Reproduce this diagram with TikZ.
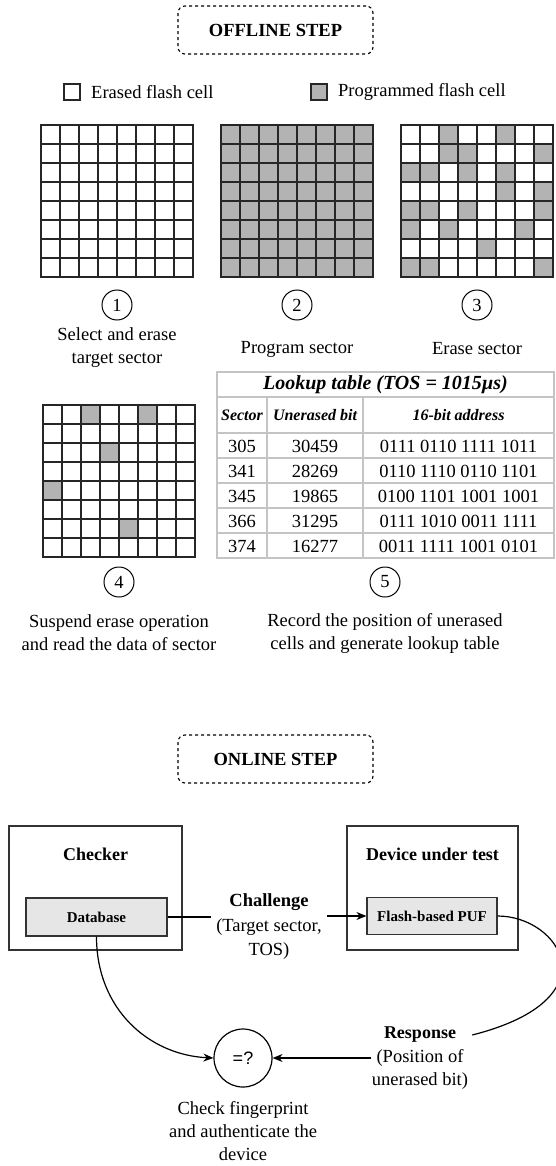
\documentclass[tikz,border=0pt]{standalone}
\usepackage{fontspec}
\setmainfont{Liberation Serif}
\newfontfamily\sansfam{Liberation Sans}
\usetikzlibrary{arrows.meta,calc}
\definecolor{cellline}{HTML}{262626}
\definecolor{progfill}{HTML}{B3B3B3}
\definecolor{tabline}{HTML}{C4C4C4}
\definecolor{boxfill}{HTML}{E6E6E6}
\definecolor{frameline}{HTML}{333333}
\begin{document}
\begin{tikzpicture}[x=1pt,y=-1pt,
  txt/.style={font=\fontsize{18.5}{23}\selectfont, align=center, inner sep=0pt},
  boldtxt/.style={font=\fontsize{18}{22}\selectfont\bfseries, align=center, inner sep=0pt},
  stepbanner/.style={draw=black, dashed, dash pattern=on 3pt off 3pt, line width=1.1pt,
    rounded corners=7pt, minimum width=195pt, minimum height=48pt,
    font=\fontsize{18.5}{22}\selectfont\bfseries},
  gridline/.style={draw=cellline, line width=1.8pt, line cap=rect},
  numcirc/.style={circle, draw=black, line width=1pt, minimum size=30pt, inner sep=0pt,
    font=\fontsize{18.5}{22}\selectfont},
  legendbox/.style={draw=cellline, line width=1.4pt},
  tabrule/.style={draw=tabline, line width=1.4pt},
  tabhead/.style={font=\fontsize{16}{19}\selectfont\bfseries\itshape, inner sep=0pt},
  tabcell/.style={font=\fontsize{18.5}{22}\selectfont, inner sep=0pt},
  frame/.style={draw=frameline, line width=1.2pt, minimum width=173pt, minimum height=124pt},
  innerbox/.style={draw=frameline, fill=boxfill, line width=1.2pt,
    font=\fontsize{15}{18}\selectfont\bfseries},
  link/.style={draw=black, line width=1.2pt},
  arrowlink/.style={link, -{Stealth[length=10pt,width=8pt]}}
]
\clip (0,0) rectangle (556,1166);
\fill[white] (0,0) rectangle (556,1166);

% ---------------- offline step ----------------
\node[stepbanner] (offline) at (275.5,30) {OFFLINE STEP};

% legend
\draw[legendbox, fill=white] (64,84) rectangle (80,100);
\node[txt, anchor=west] (lgerased) at (91,92) {Erased flash cell};
\draw[legendbox, fill=progfill] (311,84) rectangle (327,100);
\node[txt, anchor=west] (lgprog) at (338,92) {Programmed flash cell};

% sector 1: freshly erased
\foreach \i in {0,...,8} {
  \draw[gridline] ({41+\i*19},125) -- ++(0,152);
  \draw[gridline] (41,{125+\i*19}) -- ++(152,0);
}

% sector 2: fully programmed
\fill[progfill] (221,125) rectangle ++(152,152);
\foreach \i in {0,...,8} {
  \draw[gridline] ({221+\i*19},125) -- ++(0,152);
  \draw[gridline] (221,{125+\i*19}) -- ++(152,0);
}

% sector 3: partially erased
\foreach \c/\r in {2/0,5/0, 2/1,3/1,7/1, 0/2,1/2,3/2,5/2, 5/3,7/3,
                   0/4,1/4,3/4,7/4, 0/5,2/5,6/5, 4/6, 0/7,1/7,7/7}
  \fill[progfill] ({401+\c*19},{125+\r*19}) rectangle ++(19,19);
\foreach \i in {0,...,8} {
  \draw[gridline] ({401+\i*19},125) -- ++(0,152);
  \draw[gridline] (401,{125+\i*19}) -- ++(152,0);
}

% sector 4: erase suspended, unerased cells remain
\foreach \c/\r in {2/0,5/0, 3/2, 0/4, 4/6}
  \fill[progfill] ({43+\c*19},{405+\r*19}) rectangle ++(19,19);
\foreach \i in {0,...,8} {
  \draw[gridline] ({43+\i*19},405) -- ++(0,152);
  \draw[gridline] (43,{405+\i*19}) -- ++(152,0);
}

% step numbers and captions
\node[numcirc] (n1) at (117,305) {1};
\node[numcirc] (n2) at (297,305) {2};
\node[numcirc] (n3) at (477,305) {3};
\node[txt] (c1) at (117,348) {Select and erase\\target sector};
\node[txt] (c2) at (297,349) {Program sector};
\node[txt] (c3) at (477,349) {Erase sector};

\node[numcirc] (n4) at (119,582) {4};
\node[numcirc] (n5) at (385,582) {5};
\node[txt] (c4) at (119,633) {Suspend erase operation\\and read the data of sector};
\node[txt] (c5) at (385,633) {Record the position of unerased\\cells and generate lookup table};

% lookup table
\draw[tabrule] (217,372) rectangle (554,558);
\foreach \y in {397,433,458,483,508,533}
  \draw[tabrule] (217,\y) -- (554,\y);
\draw[tabrule] (267,397) -- (267,558);
\draw[tabrule] (363,397) -- (363,558);
\node[font=\fontsize{20}{23}\selectfont\bfseries\itshape, inner sep=0pt] (ttitle) at (385.5,385)
  {Lookup table (TOS = 1015µs)};
\node[tabhead] (hsec) at (242,415) {Sector};
\node[tabhead] (hbit) at (315,415) {Unerased bit};
\node[tabhead] (hadr) at (458.5,415) {16-bit address};
\foreach \s/\b/\a [count=\k from 0] in {
    305/30459/0111 0110 1111 1011,
    341/28269/0110 1110 0110 1101,
    345/19865/0100 1101 1001 1001,
    366/31295/0111 1010 0011 1111,
    374/16277/0011 1111 1001 0101} {
  \node[tabcell] (s\k) at (242,{446+\k*25}) {\s};
  \node[tabcell] (b\k) at (315,{446+\k*25}) {\b};
  \node[tabcell] (a\k) at (458.5,{446+\k*25}) {\a};
}

% ---------------- online step ----------------
\node[stepbanner] (online) at (275.5,759) {ONLINE STEP};

\node[frame] (checker) at (95.5,888) {};
\node[boldtxt] (checkertitle) at (95.5,854) {Checker};
\node[frame, minimum width=171pt] (dut) at (432.5,888) {};
\node[boldtxt] (duttitle) at (432.5,854) {Device under test};

\node[innerbox, minimum width=141pt, minimum height=38pt] (db) at (96.5,917) {Database};
\node[innerbox, minimum width=130pt, minimum height=37pt] (puf) at (432,916) {Flash-based PUF};

% challenge label
\node[boldtxt, font=\fontsize{18.5}{22}\selectfont\bfseries] (chal1) at (269,902) {Challenge};
\node[txt, inner xsep=5pt] (chal2) at (269,927) {(Target sector,};
\node[txt] (chal3) at (269,951) {TOS)};

% response label
\node[boldtxt, inner xsep=16pt] (resp1) at (420,1035) {Response};
\node[txt, inner xsep=5pt] (resp2) at (420,1058) {(Position of};
\node[txt] (resp3) at (420,1081) {unerased bit)};

% comparison
\node[circle, draw=black, line width=1.2pt, minimum size=58pt, inner sep=0pt,
  font=\fontsize{18}{22}\selectfont\sansfam] (cmp) at (243,1058) {=?};
\node[txt] (verdict) at (243,1131) {Check fingerprint\\and authenticate the\\device};

% connectors
\draw[link] (db.east) -- (db.east -| chal2.west);
\draw[arrowlink] (chal2.east |- puf.west) -- (puf.west);
\draw[link] (puf.east) .. controls +(62,0) and +(142,-36) .. (resp1.east);
\draw[arrowlink] (resp2.west) -- (cmp.east);
\draw[arrowlink] (db.south) .. controls +(0,73) and +(-64,-3) .. (cmp.west);
\end{tikzpicture}
\end{document}
